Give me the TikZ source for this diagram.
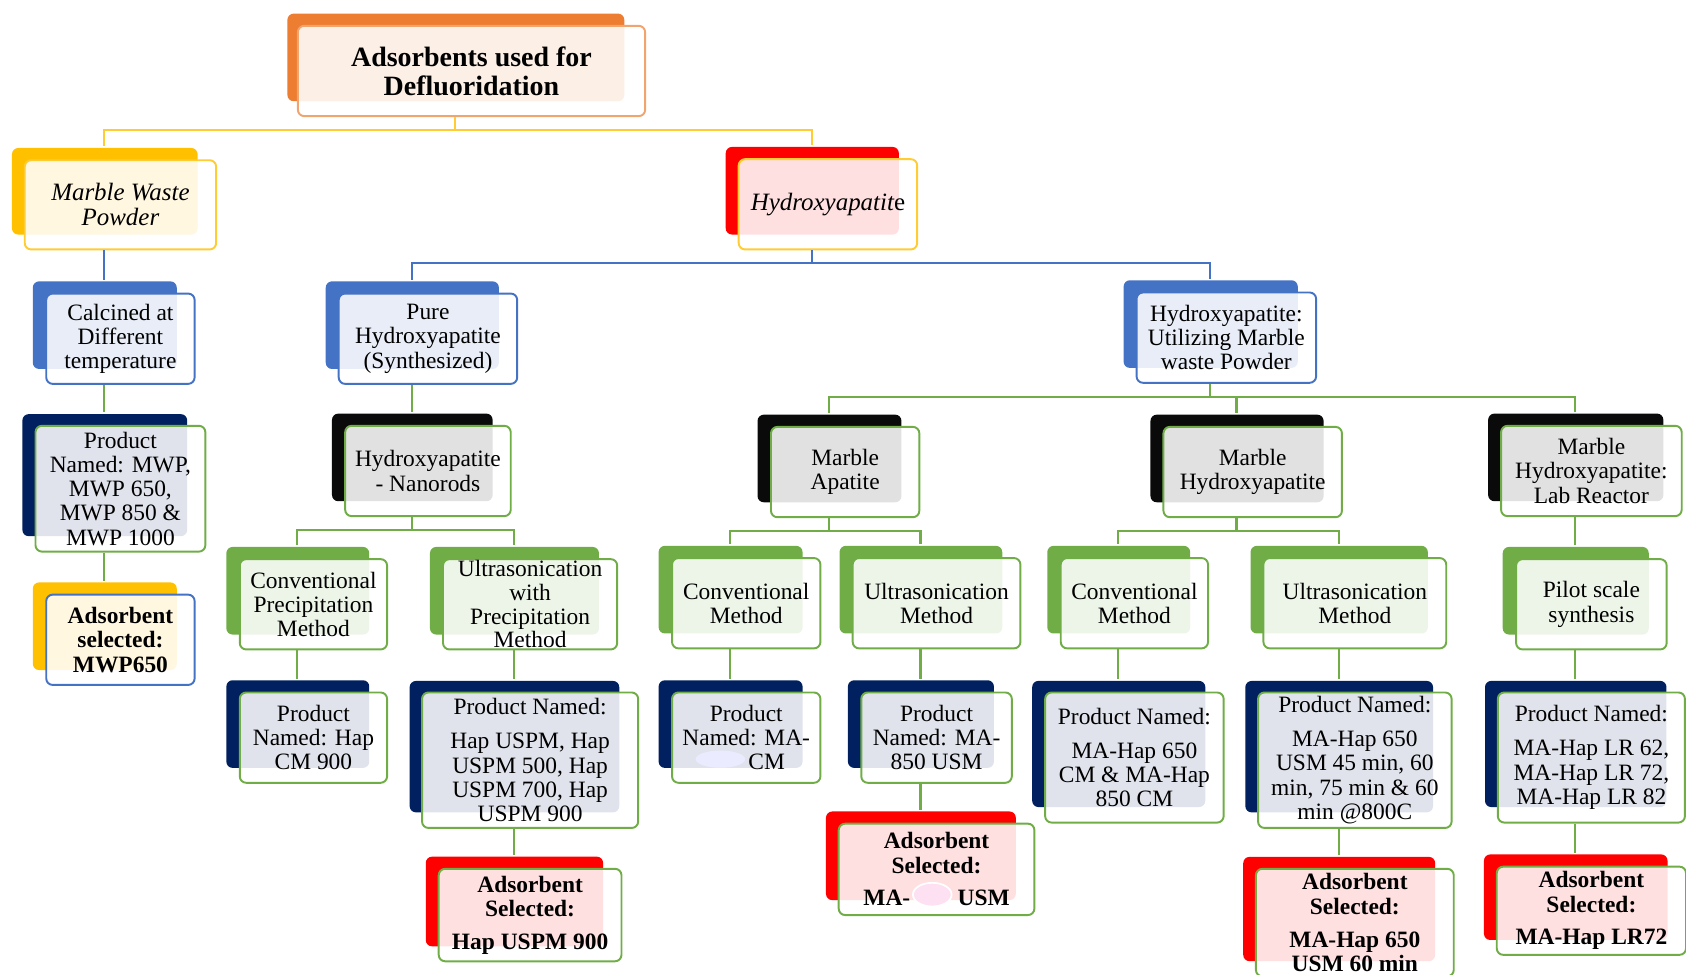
\documentclass[tikz,border=0pt]{standalone}
\usepackage{fontspec}
\setmainfont{Liberation Serif}
\usetikzlibrary{shadows}

\definecolor{orng}{HTML}{ED7D31}
\definecolor{gold}{HTML}{FFC000}
\definecolor{bluey}{HTML}{4472C4}
\definecolor{navy}{HTML}{002060}
\definecolor{leaf}{HTML}{70AD47}
\definecolor{coal}{HTML}{0A0A0A}
\definecolor{hot}{HTML}{FF0000}

\newcommand{\boxfont}{\fontsize{10.9}{11.3}\selectfont}
\newcommand{\fork}[3]{\foreach \kid in {#3} \draw[tie=#1] ([xshift=-7.5pt]#2.south) -- ++(0,12) -| ([xshift=-7.5pt,yshift=6pt]\kid.north);}

\begin{document}
\begin{tikzpicture}[x=0.5pt, y=-0.5pt,
  card/.style={draw=#1, line width=0.9pt, rounded corners=3pt, fill=white, fill opacity=0.88, text opacity=1, align=center, inner sep=0pt, font=\boxfont},
  back/.style={copy shadow={shadow xshift=-7.5pt, shadow yshift=6.5pt, shadow scale=0.97, fill=#1, draw=none, fill opacity=1}},
  wh/.style 2 args={minimum width=#1*0.5pt, minimum height=#2*0.5pt},
  tie/.style={draw=#1, line width=1pt},
  pick/.style={font=\boxfont\bfseries}]
  \useasboundingbox (0,0) rectangle (1568,906);

  % top levels
  \node[card=orng!70, back=orng, wh={323}{84}, font=\fontsize{13}{13.6}\selectfont\bfseries] (top) at (438.5,66) {Adsorbents used for\\Defluoridation};
  \node[card=gold!80, back=gold, wh={178}{83}, font=\fontsize{11.6}{11.6}\selectfont\itshape] (mwp) at (112,190.5) {Marble Waste\\Powder};
  \node[card=gold!80, back=hot, wh={166}{84}, font=\fontsize{11.6}{11.6}\selectfont\itshape] (hap) at (770,190) {Hydroxyapatit{\upshape e}};

  \node[card=bluey, back=bluey, wh={138}{84}] (calc) at (112,315) {Calcined at\\Different\\temperature};
  \node[card=bluey, back=bluey, wh={166}{84}] (pure) at (398,315) {Pure\\Hydroxyapatite\\(Synthesized)};
  \node[card=bluey, back=bluey, wh={167}{84}] (util) at (1140.5,314) {Hydroxyapatite:\\Utilizing Marble\\waste Powder};

  % marble waste branch
  \node[card=leaf, back=navy, wh={158}{117}] (prodmwp) at (112,454.5) {Product\\Named: MWP,\\MWP 650,\\MWP 850 \&\\MWP 1000};
  \node[card=bluey, back=gold, wh={138}{84}, pick] (adsmwp) at (112,595) {Adsorbent\\selected:\\MWP650};

  % second row
  \node[card=leaf, back=coal, wh={154}{84}] (nano) at (398,438) {Hydroxyapatite\\- Nanorods};
  \node[card=leaf, back=coal, wh={138}{84}] (ma) at (786,439) {Marble\\Apatite};
  \node[card=leaf, back=coal, wh={166}{84}] (mh) at (1165,439) {Marble\\Hydroxyapatite};
  \node[card=leaf, back=coal, wh={168}{84}] (mhlr) at (1480,438) {Marble\\Hydroxyapatite:\\Lab Reactor};

  % methods
  \node[card=leaf, back=leaf, wh={137}{84}] (cpm) at (291.5,562) {Conventional\\Precipitation\\Method};
  \node[card=leaf, back=leaf, wh={162}{84}, font=\fontsize{10.9}{11}\selectfont] (uspm) at (493,562) {Ultrasonication\\with\\Precipitation\\Method};
  \node[card=leaf, back=leaf, wh={138}{84}] (macm) at (694,561) {Conventional\\Method};
  \node[card=leaf, back=leaf, wh={156}{84}] (mausm) at (871,561) {Ultrasonication\\Method};
  \node[card=leaf, back=leaf, wh={137}{84}] (mhcm) at (1055,561) {Conventional\\Method};
  \node[card=leaf, back=leaf, wh={170}{84}] (mhusm) at (1260,561) {Ultrasonication\\Method};
  \node[card=leaf, back=leaf, wh={140}{84}] (pilot) at (1480,562) {Pilot scale\\synthesis};

  % products
  \node[card=leaf, back=navy, wh={137}{84}] (phap) at (291.5,686) {Product\\Named: Hap\\CM 900};
  \node[card=leaf, back=navy, wh={201}{126}] (puspm) at (493,707) {Product Named:\\[4.5pt]Hap USPM, Hap\\USPM 500, Hap\\USPM 700, Hap\\USPM 900};
  \node[card=leaf, back=navy, wh={138}{84}] (pmacm) at (694,686) {Product\\Named: MA-\\\hspace*{19pt}CM};
  \node[card=leaf, back=navy, wh={140}{84}] (pmausm) at (871,686) {Product\\Named: MA-\\850 USM};
  \node[card=leaf, back=navy, wh={166}{121}] (pmhcm) at (1055,704.5) {Product Named:\\[4.5pt]MA-Hap 650\\CM \& MA-Hap\\850 CM};
  \node[card=leaf, back=navy, wh={180}{126}] (pmhusm) at (1260,707) {Product Named:\\[4.5pt]MA-Hap 650\\USM 45 min, 60\\min, 75 min \& 60\\min @800C};
  \node[card=leaf, back=navy, wh={174}{121}] (pmhlr) at (1480,704.5) {Product Named:\\[4.5pt]MA-Hap LR 62,\\MA-Hap LR 72,\\MA-Hap LR 82};

  % selected adsorbents
  \node[card=leaf, back=hot, wh={170}{86}, pick] (auspm) at (493,851) {Adsorbent\\Selected:\\[4pt]Hap USPM 900};
  \node[card=leaf, back=hot, wh={182}{85}, pick] (amausm) at (871,808.5) {Adsorbent\\Selected:\\[4pt]MA-\hspace*{22pt}USM};
  \node[card=leaf, back=hot, wh={184}{100}, pick] (amhusm) at (1260,858) {Adsorbent\\Selected:\\[4pt]MA-Hap 650\\USM 60 min};
  \node[card=leaf, back=hot, wh={176}{82}, pick] (amhlr) at (1480,847) {Adsorbent\\Selected:\\[4pt]MA-Hap LR72};

  % blanked marks
  \fill[blue!8] (670,706) ellipse (23 and 8);
  \draw[white, line width=0.8pt, fill=magenta!12] (867,832) ellipse (18 and 11);

  % connectors
  \fork{gold!80}{top}{mwp,hap}
  \fork{bluey}{mwp}{calc}
  \fork{bluey}{hap}{pure,util}
  \fork{leaf}{calc}{prodmwp}
  \fork{leaf}{prodmwp}{adsmwp}
  \fork{leaf}{pure}{nano}
  \fork{leaf}{nano}{cpm,uspm}
  \fork{leaf}{util}{ma,mh,mhlr}
  \fork{leaf}{ma}{macm,mausm}
  \fork{leaf}{mh}{mhcm,mhusm}
  \fork{leaf}{mhlr}{pilot}
  \fork{leaf}{cpm}{phap}
  \fork{leaf}{uspm}{puspm}
  \fork{leaf}{puspm}{auspm}
  \fork{leaf}{macm}{pmacm}
  \fork{leaf}{mausm}{pmausm}
  \fork{leaf}{pmausm}{amausm}
  \fork{leaf}{mhcm}{pmhcm}
  \fork{leaf}{mhusm}{pmhusm}
  \fork{leaf}{pmhusm}{amhusm}
  \fork{leaf}{pilot}{pmhlr}
  \fork{leaf}{pmhlr}{amhlr}
\end{tikzpicture}
\end{document}
